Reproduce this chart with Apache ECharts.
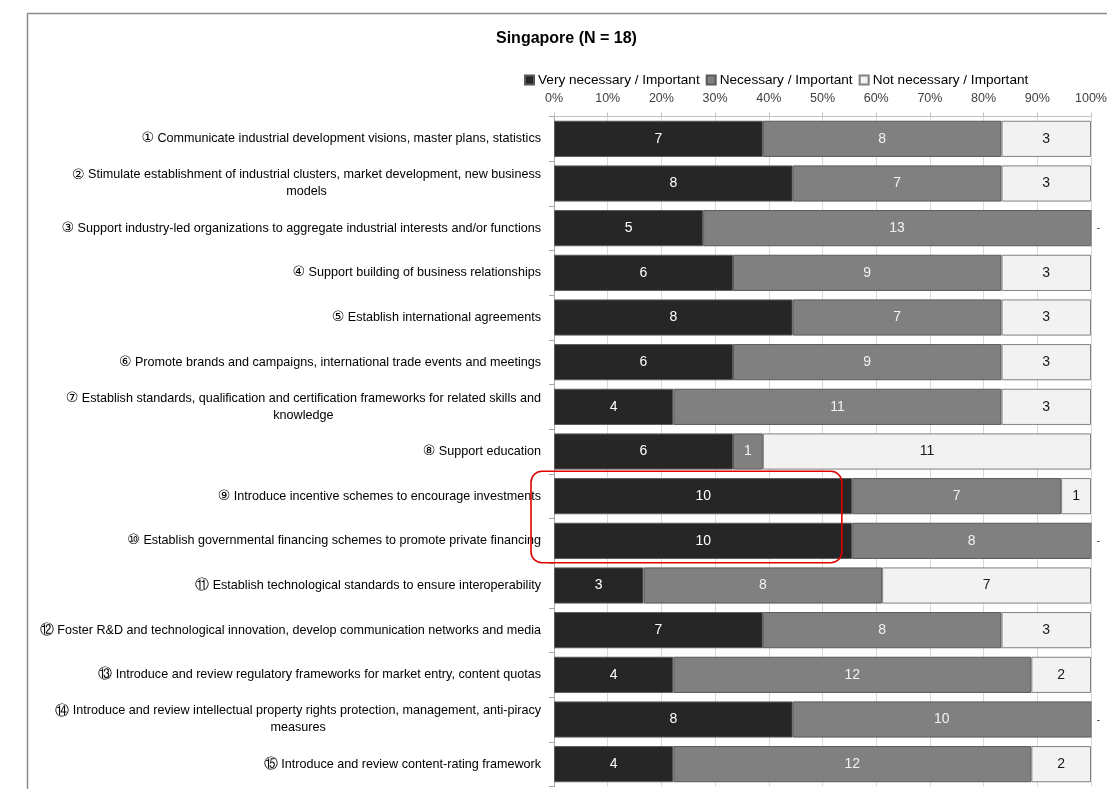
<!DOCTYPE html>
<html><head><meta charset="utf-8">
<script src="https://cdn.jsdelivr.net/npm/echarts@6/dist/echarts.min.js"></script>
<style>html,body{margin:0;padding:0;background:#fff}#c{width:1107px;height:789px}</style>
</head><body><div id="c"></div>
<script>
const categories = [
  "① Communicate industrial development visions, master plans, statistics",
  "② Stimulate establishment of industrial clusters, market development, new business\nmodels",
  "③ Support industry-led organizations to aggregate industrial interests and/or functions",
  "④ Support building of business relationships",
  "⑤ Establish international agreements",
  "⑥ Promote brands and campaigns, international trade events and meetings",
  "⑦ Establish standards, qualification and certification frameworks for related skills and\nknowledge",
  "⑧ Support education",
  "⑨ Introduce incentive schemes to encourage investments",
  "⑩ Establish governmental financing schemes to promote private financing",
  "⑪ Establish technological standards to ensure interoperability",
  "⑫ Foster R&D and technological innovation, develop communication networks and media",
  "⑬ Introduce and review regulatory frameworks for market entry, content quotas",
  "⑭ Introduce and review intellectual property rights protection, management, anti-piracy\nmeasures",
  "⑮ Introduce and review content-rating framework"
];
const veryNecessary = [7, 8, 5, 6, 8, 6, 4, 6, 10, 10, 3, 7, 4, 8, 4];
const necessary     = [8, 7, 13, 9, 7, 9, 11, 1, 7, 8, 8, 8, 12, 10, 12];
const notNecessary  = [3, 3, 0, 3, 3, 3, 3, 11, 1, 0, 7, 3, 2, 0, 2];
const seriesNames = ["Very necessary / Important", "Necessary / Important", "Not necessary / Important"];
const xTicks = [0, 10, 20, 30, 40, 50, 60, 70, 80, 90, 100];
const highlighted = [8, 9];

const FONT = "'Liberation Sans', Arial, sans-serif";
const totals = veryNecessary.map((v, i) => v + necessary[i] + notNecessary[i]);
const colors = ["#262626", "#808080", "#f2f2f2"];
const labelColors = ["#ffffff", "#f2f2f2", "#1a1a1a"];
const borders = ["#595959", "#595959", "#808080"];
const counts = [veryNecessary, necessary, notNecessary];

function mkData(arr) {
  return arr.map((v, i) => {
    const item = { value: v / totals[i] * 100, count: v };
    if (v === 0) item.label = { position: 'right', distance: 5, color: '#404040', fontSize: 11 };
    return item;
  });
}

function fmtCat(v) {
  return v.split('\n').map((s, li) => {
    if (li === 0) {
      const num = s.charAt(0);
      const rest = s.slice(1);
      return '{n|' + num + '}{c|' + rest + '}';
    }
    return '{c|' + s + '}';
  }).join('\n');
}

const chart = echarts.init(document.getElementById('c'));
chart.setOption({
  animation: false,
  textStyle: { fontFamily: FONT },
  title: {
    text: 'Singapore (N = 18)', left: 491, top: 26,
    textStyle: { fontFamily: FONT, fontSize: 16, fontWeight: 'bold', color: '#000' }
  },
  legend: {
    data: seriesNames, left: 519, top: 68, itemWidth: 9, itemHeight: 9, itemGap: 6,
    icon: 'rect',
    textStyle: { fontFamily: FONT, fontSize: 13.6, color: '#000', padding: [0, 0, 0, -1] }
  },
  grid: { left: 554, right: 16, top: 116.5, bottom: 2.5, outerBoundsMode: 'none', containLabel: false },
  xAxis: {
    type: 'value', position: 'top', min: 0, max: 100, interval: 10,
    axisLine: { show: true, lineStyle: { color: '#bfbfbf' } },
    axisTick: { show: true, length: 4, lineStyle: { color: '#bfbfbf' } },
    splitLine: { show: true, lineStyle: { color: '#d9d9d9' } },
    axisLabel: {
      margin: 11, color: '#404040', fontSize: 12.5, fontFamily: FONT,
      formatter: v => xTicks.includes(v) ? v + '%' : ''
    }
  },
  yAxis: {
    type: 'category', inverse: true, data: categories,
    axisLine: { show: true, lineStyle: { color: '#a6a6a6' } },
    axisTick: { show: true, length: 5, lineStyle: { color: '#a6a6a6' } },
    axisLabel: {
      margin: 13, align: 'right', color: '#000', fontSize: 13, fontFamily: FONT, lineHeight: 17,
      formatter: fmtCat,
      rich: {
        c: { align: 'center', fontSize: 12.6, fontFamily: FONT, color: '#000', lineHeight: 17 },
        n: { align: 'center', fontSize: 14, fontFamily: "'DejaVu Sans', 'Noto Sans'", color: '#000', lineHeight: 17 }
      }
    }
  },
  series: counts.map((arr, k) => ({
    name: seriesNames[k], type: 'bar', stack: 'all',
    barCategoryGap: '19%',
    data: mkData(arr),
    itemStyle: { color: colors[k], borderColor: borders[k], borderWidth: 1 },
    label: {
      show: true, position: 'inside', color: labelColors[k], fontSize: 14, fontFamily: FONT,
      formatter: p => p.data.count === 0 ? '-' : String(p.data.count)
    }
  }))
});

function drawExtras() {
  const topLeft = chart.convertToPixel({ gridIndex: 0 }, [0, highlighted[0]]);
  const botRight = chart.convertToPixel({ gridIndex: 0 }, [53.6, highlighted[1]]);
  const band = chart.convertToPixel({ gridIndex: 0 }, [0, 1])[1] - chart.convertToPixel({ gridIndex: 0 }, [0, 0])[1];
  const x1 = topLeft[0] - 23, x2 = botRight[0];
  const y1 = topLeft[1] - band * 0.4 - 7, y2 = botRight[1] + band * 0.4 + 4;
  chart.setOption({
    graphic: [
      { type: 'rect', silent: true, shape: { x: 27.5, y: 13.5, width: 1200, height: 900 },
        style: { fill: 'none', stroke: '#8c8c8c', lineWidth: 1.5 } },
      { type: 'rect', silent: true, z: 100, shape: { x: x1, y: y1, width: x2 - x1, height: y2 - y1, r: 11 },
        style: { fill: 'none', stroke: '#e00000', lineWidth: 1.6 } }
    ]
  });
}
drawExtras();
</script></body></html>
